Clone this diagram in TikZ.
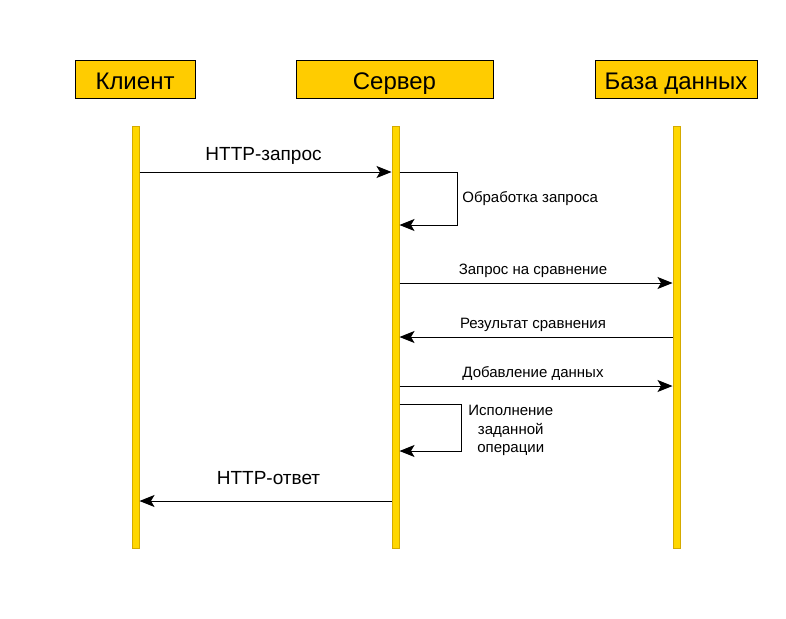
\documentclass[tikz,border=0pt]{standalone}
\usepackage{fontspec}
\setmainfont{Liberation Sans}
\usetikzlibrary{arrows.meta,positioning}
\definecolor{headgold}{HTML}{FFCC00}
\definecolor{lifegold}{HTML}{FFD700}
\definecolor{lifeedge}{HTML}{D4AA00}
\tikzset{
    header/.style={draw=black, fill=headgold, line width=1pt, minimum height=38pt, inner sep=0pt, text height=20pt, text depth=0pt, font=\fontsize{24}{28}\selectfont},
    lifeline/.style={draw=lifeedge, fill=lifegold, line width=1pt, minimum width=7pt, minimum height=422pt, inner sep=0pt},
    msg/.style={-{Stealth[length=15pt,width=12pt,inset=3.5pt]}, line width=1pt},
    biglabel/.style={font=\fontsize{19}{22}\selectfont},
    smalllabel/.style={font=\fontsize{15}{18.5}\selectfont},
}
\begin{document}
\begin{tikzpicture}[x=1pt, y=-1pt]
            \useasboundingbox (0, 0) rectangle (786, 618);
            %\draw[lightgray] (0, 0) grid[step=50] (786, 618);
            \node[header, minimum width=120pt] (hclient) at (135, 79) {Клиент};
            \node[header, minimum width=197pt] (hserver) at (394.5, 79) {Сервер};
            \node[header, minimum width=162pt] (hdb) at (676, 79) {База данных};
            \node[lifeline] (client) at (135.5, 337) {};
            \node[lifeline] (server) at (395.5, 337) {};
            \node[lifeline] (db) at (676.5, 337) {};
            \coordinate (t1) at (0, 172);
            \coordinate (t2) at (0, 225);
            \coordinate (t3) at (0, 283);
            \coordinate (t4) at (0, 337);
            \coordinate (t5) at (0, 386);
            \coordinate (t6) at (0, 404);
            \coordinate (t7) at (0, 451);
            \coordinate (t8) at (0, 501);
            \draw[msg] (client.east |- t1) -- node[biglabel, above=4pt, xshift=-2pt] {HTTP-запрос} (server.west |- t1);
            \draw[msg] (server.east |- t1) -- ++(58, 0) -- node[smalllabel, right, xshift=1pt] {Обработка запроса} ++(0, 53) -- (server.east |- t2);
            \draw[msg] (server.east |- t3) -- node[smalllabel, above=2pt, xshift=-3pt] {Запрос на сравнение} (db.west |- t3);
            \draw[msg] (db.west |- t4) -- node[smalllabel, above=2pt, xshift=-3pt] {Результат сравнения} (server.east |- t4);
            \draw[msg] (server.east |- t5) -- node[smalllabel, above=2pt, xshift=-3pt] {Добавление данных} (db.west |- t5);
            \draw[msg] (server.east |- t6) -- ++(62, 0) -- node[smalllabel, right, align=center, xshift=3pt, yshift=-3pt] {Исполнение\\заданной\\операции} ++(0, 47) -- (server.east |- t7);
            \draw[msg] (server.west |- t8) -- node[biglabel, above=12pt, xshift=3pt] {HTTP-ответ} (client.east |- t8);
\end{tikzpicture}
\end{document}
